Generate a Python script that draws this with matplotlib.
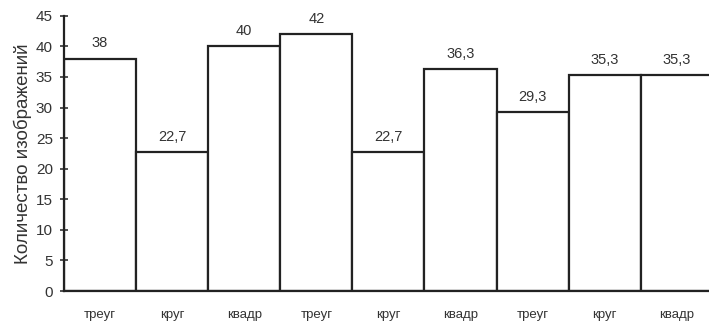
import matplotlib.pyplot as plt

shapes = ['треуг', 'круг', 'квадр', 'треуг', 'круг', 'квадр', 'треуг', 'круг', 'квадр']
counts = [38, 22.7, 40, 42, 22.7, 36.3, 29.3, 35.3, 35.3]
count_labels = ['38', '22,7', '40', '42', '22,7', '36,3', '29,3', '35,3', '35,3']

plt.rcParams['font.family'] = ['Liberation Sans', 'DejaVu Sans']

fig = plt.figure(figsize=(7.09, 3.23), dpi=100)
ax = fig.add_axes([0.0903, 0.099, 0.91, 0.852])

x = list(range(len(counts)))
ax.bar(x, counts, width=1.0, color='white', edgecolor='#222222', linewidth=1.6)
for xi, v, lab in zip(x, counts, count_labels):
    ax.annotate(lab, (xi, v), xytext=(0, 6), textcoords='offset points',
                ha='center', va='bottom', fontsize=10.5, color='#333333')

ax.set_xlim(-0.5, 8.45)
ax.set_ylim(0, 45)
ax.set_yticks(range(0, 46, 5))
ax.set_xticks(x)
ax.set_xticklabels(shapes, fontsize=9.5, color='#333333')
ax.tick_params(axis='x', length=0, pad=13)
ax.tick_params(axis='y', direction='inout', length=6, width=1.2, labelsize=11, colors='#333333', pad=5)
ax.set_ylabel('Количество изображений', fontsize=13.5, color='#333333', labelpad=3)

for s in ['top', 'right']:
    ax.spines[s].set_visible(False)
for s in ['left', 'bottom']:
    ax.spines[s].set_linewidth(1.6)
    ax.spines[s].set_color('#222222')

plt.savefig('out.png', dpi=100)
